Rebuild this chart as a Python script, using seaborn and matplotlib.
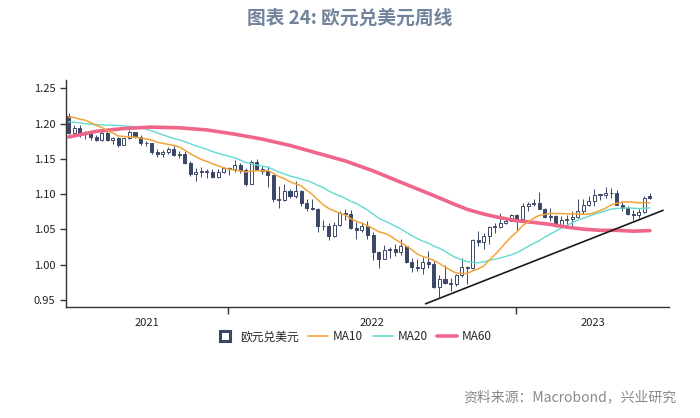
import numpy as np
import pandas as pd
import seaborn as sns
import matplotlib.pyplot as plt
from matplotlib.lines import Line2D

# weekly EUR/USD candles, first week starting 2021-06-14
week_start = '2021-06-14'

open_ = [1.2107, 1.1864, 1.1936, 1.1863, 1.1875, 1.1808, 1.1770, 1.1870, 1.1762, 1.1795,
         1.1700, 1.1795, 1.1880, 1.1813, 1.1725, 1.1720, 1.1595, 1.1575, 1.1600, 1.1645,
         1.1560, 1.1566, 1.1445, 1.1290, 1.1318, 1.1315, 1.1318, 1.1240, 1.1320, 1.1370,
         1.1360, 1.1410, 1.1345, 1.1145, 1.1450, 1.1350, 1.1322, 1.1270, 1.0930, 1.0910,
         1.1050, 1.0980, 1.1050, 1.0875, 1.0810, 1.0790, 1.0545, 1.0550, 1.0410, 1.0560,
         1.0730, 1.0720, 1.0520, 1.0495, 1.0555, 1.0425, 1.0185, 1.0080, 1.0210, 1.0220,
         1.0180, 1.0260, 1.0040, 0.9965, 0.9955, 1.0040, 1.0015, 0.9690, 0.9800, 0.9740,
         0.9720, 0.9860, 0.9965, 0.9960, 1.0350, 1.0325, 1.0400, 1.0535, 1.0535, 1.0585,
         1.0620, 1.0705, 1.0645, 1.0830, 1.0855, 1.0870, 1.0795, 1.0680, 1.0695, 1.0545,
         1.0635, 1.0645, 1.0670, 1.0760, 1.0840, 1.0905, 1.0990, 1.0990, 1.1015, 1.1020,
         1.0850, 1.0805, 1.0725, 1.0710, 1.0750, 1.0975]
high = [1.2146, 1.1975, 1.1975, 1.1895, 1.1880, 1.1835, 1.1909, 1.1900, 1.1806, 1.1805,
        1.1800, 1.1909, 1.1884, 1.1845, 1.1750, 1.1730, 1.1640, 1.1624, 1.1670, 1.1692,
        1.1616, 1.1610, 1.1464, 1.1375, 1.1382, 1.1355, 1.1360, 1.1360, 1.1386, 1.1385,
        1.1482, 1.1436, 1.1370, 1.1484, 1.1495, 1.1395, 1.1395, 1.1275, 1.1121, 1.1137,
        1.1070, 1.1185, 1.1055, 1.0925, 1.0936, 1.0800, 1.0640, 1.0590, 1.0600, 1.0760,
        1.0786, 1.0774, 1.0600, 1.0605, 1.0615, 1.0460, 1.0200, 1.0278, 1.0255, 1.0293,
        1.0368, 1.0270, 1.0090, 1.0080, 1.0112, 1.0198, 1.0050, 0.9855, 0.9999, 0.9809,
        0.9875, 1.0094, 0.9976, 1.0364, 1.0480, 1.0450, 1.0545, 1.0595, 1.0736, 1.0660,
        1.0715, 1.0715, 1.0870, 1.0887, 1.0929, 1.1033, 1.0800, 1.0805, 1.0705, 1.0692,
        1.0700, 1.0760, 1.0930, 1.0925, 1.0973, 1.1075, 1.1000, 1.1095, 1.1092, 1.1055,
        1.0905, 1.0830, 1.0780, 1.0790, 1.0970, 1.1012]
low = [1.1847, 1.1848, 1.1807, 1.1781, 1.1772, 1.1752, 1.1756, 1.1754, 1.1705, 1.1664,
       1.1692, 1.1780, 1.1800, 1.1700, 1.1680, 1.1563, 1.1530, 1.1524, 1.1570, 1.1535,
       1.1513, 1.1433, 1.1264, 1.1186, 1.1236, 1.1226, 1.1222, 1.1235, 1.1295, 1.1272,
       1.1315, 1.1300, 1.1121, 1.1140, 1.1340, 1.1280, 1.1106, 1.0885, 1.0806, 1.0900,
       1.0944, 1.0945, 1.0835, 1.0757, 1.0770, 1.0470, 1.0490, 1.0350, 1.0390, 1.0550,
       1.0627, 1.0510, 1.0360, 1.0470, 1.0365, 1.0070, 0.9952, 1.0075, 1.0100, 1.0123,
       1.0140, 1.0030, 0.9900, 0.9910, 0.9864, 0.9955, 0.9668, 0.9535, 0.9730, 0.9632,
       0.9705, 0.9820, 0.9730, 0.9935, 1.0270, 1.0223, 1.0290, 1.0445, 1.0525, 1.0575,
       1.0615, 1.0483, 1.0640, 1.0765, 1.0835, 1.0790, 1.0655, 1.0615, 1.0533, 1.0535,
       1.0525, 1.0515, 1.0655, 1.0713, 1.0830, 1.0830, 1.0910, 1.0940, 1.0940, 1.0845,
       1.0760, 1.0710, 1.0635, 1.0665, 1.0735, 1.0935]
close = [1.1864, 1.1936, 1.1863, 1.1875, 1.1808, 1.1770, 1.1870, 1.1762, 1.1795, 1.1700,
         1.1795, 1.1880, 1.1813, 1.1725, 1.1720, 1.1595, 1.1575, 1.1600, 1.1645, 1.1560,
         1.1566, 1.1445, 1.1290, 1.1318, 1.1315, 1.1318, 1.1240, 1.1320, 1.1370, 1.1360,
         1.1410, 1.1345, 1.1145, 1.1450, 1.1350, 1.1322, 1.1270, 1.0930, 1.0910, 1.1050,
         1.0980, 1.1050, 1.0875, 1.0810, 1.0790, 1.0545, 1.0550, 1.0410, 1.0560, 1.0730,
         1.0720, 1.0520, 1.0495, 1.0555, 1.0425, 1.0185, 1.0080, 1.0210, 1.0220, 1.0180,
         1.0260, 1.0040, 0.9965, 0.9955, 1.0040, 1.0015, 0.9690, 0.9800, 0.9740, 0.9720,
         0.9860, 0.9965, 0.9960, 1.0350, 1.0325, 1.0400, 1.0535, 1.0535, 1.0585, 1.0620,
         1.0705, 1.0645, 1.0830, 1.0855, 1.0870, 1.0795, 1.0680, 1.0695, 1.0545, 1.0635,
         1.0645, 1.0670, 1.0760, 1.0840, 1.0905, 1.0990, 1.0990, 1.1015, 1.1020, 1.0850,
         1.0805, 1.0725, 1.0710, 1.0750, 1.0940, 1.0945]

ma10 = [1.2091, 1.2086, 1.2063, 1.2048, 1.2013, 1.1976, 1.1945, 1.1902, 1.1865, 1.1824,
        1.1817, 1.1812, 1.1807, 1.1792, 1.1783, 1.1766, 1.1736, 1.1720, 1.1705, 1.1691,
        1.1668, 1.1624, 1.1572, 1.1531, 1.1491, 1.1463, 1.1430, 1.1402, 1.1374, 1.1354,
        1.1339, 1.1329, 1.1314, 1.1327, 1.1331, 1.1331, 1.1334, 1.1295, 1.1249, 1.1218,
        1.1175, 1.1146, 1.1119, 1.1055, 1.0999, 1.0921, 1.0849, 1.0797, 1.0762, 1.0730,
        1.0704, 1.0651, 1.0613, 1.0588, 1.0551, 1.0515, 1.0468, 1.0448, 1.0414, 1.0359,
        1.0313, 1.0265, 1.0212, 1.0152, 1.0114, 1.0097, 1.0058, 1.0017, 0.9968, 0.9922,
        0.9882, 0.9875, 0.9874, 0.9914, 0.9942, 0.9981, 1.0066, 1.0139, 1.0224, 1.0314,
        1.0398, 1.0466, 1.0553, 1.0604, 1.0658, 1.0698, 1.0712, 1.0728, 1.0724, 1.0726,
        1.0720, 1.0722, 1.0715, 1.0714, 1.0717, 1.0737, 1.0768, 1.0800, 1.0847, 1.0869,
        1.0885, 1.0890, 1.0885, 1.0876, 1.0880, 1.0875]
ma20 = [1.2025, 1.2020, 1.2010, 1.2000, 1.1990, 1.1985, 1.1982, 1.1978, 1.1976, 1.1973,
        1.1968, 1.1962, 1.1952, 1.1940, 1.1922, 1.1898, 1.1870, 1.1842, 1.1815, 1.1788,
        1.1770, 1.1744, 1.1714, 1.1686, 1.1660, 1.1636, 1.1603, 1.1579, 1.1556, 1.1537,
        1.1514, 1.1485, 1.1449, 1.1433, 1.1413, 1.1398, 1.1382, 1.1348, 1.1312, 1.1286,
        1.1257, 1.1237, 1.1216, 1.1191, 1.1165, 1.1126, 1.1092, 1.1046, 1.1006, 1.0974,
        1.0940, 1.0898, 1.0866, 1.0821, 1.0775, 1.0718, 1.0659, 1.0623, 1.0588, 1.0545,
        1.0509, 1.0458, 1.0413, 1.0370, 1.0332, 1.0306, 1.0263, 1.0232, 1.0191, 1.0141,
        1.0098, 1.0070, 1.0043, 1.0033, 1.0028, 1.0039, 1.0062, 1.0078, 1.0096, 1.0118,
        1.0140, 1.0171, 1.0214, 1.0259, 1.0300, 1.0339, 1.0389, 1.0434, 1.0474, 1.0520,
        1.0559, 1.0594, 1.0634, 1.0659, 1.0688, 1.0717, 1.0740, 1.0764, 1.0786, 1.0797,
        1.0802, 1.0806, 1.0800, 1.0795, 1.0798, 1.0806]
ma60_week = [0, 5, 10, 15, 20, 25, 30, 35, 40, 45, 50, 55, 60, 63, 66, 69, 72, 75,
             78, 81, 84, 87, 90, 93, 96, 99, 102, 105]
ma60 = [1.181, 1.189, 1.193, 1.195, 1.194, 1.191, 1.185, 1.178, 1.169, 1.158, 1.147,
        1.133, 1.1169, 1.1074, 1.0979, 1.0879, 1.0784, 1.0718, 1.0665, 1.0622, 1.0599,
        1.0571, 1.0532, 1.0504, 1.0487, 1.0487, 1.0475, 1.0483]

trend_week = [64.5, 107.4]
trend_price = [0.9446, 1.0771]

year_labels = ['2021', '2022', '2023']
year_starts = ['2022-01-01', '2023-01-01']
y_ticks = [0.95, 1.00, 1.05, 1.10, 1.15, 1.20, 1.25]

sns.set_style('ticks')
plt.rcParams['font.family'] = ['Noto Sans CJK SC', 'DejaVu Sans']

dark = '#3b4767'
c10, c20, c60 = '#f2a43a', '#62dbd2', '#f0668a'

fig = plt.figure(figsize=(7, 4.18), dpi=100)
ax = fig.add_axes([0.094, 0.266, 0.862, 0.543])

n = len(close)
x = np.arange(n)
o = np.array(open_)
c = np.array(close)
up = c >= o
bot = np.minimum(o, c)
h = np.maximum(np.abs(c - o), 0.0008)

ax.vlines(x, low, high, color=dark, lw=0.7, zorder=2)
ax.bar(x[up], h[up], bottom=bot[up], width=0.55, color='white',
       edgecolor=dark, linewidth=0.7, zorder=3)
ax.bar(x[~up], h[~up], bottom=bot[~up], width=0.55, color=dark,
       edgecolor=dark, linewidth=0.7, zorder=3)

sns.lineplot(x=x, y=ma20, ax=ax, color=c20, lw=1.0, zorder=4)
sns.lineplot(x=x, y=ma10, ax=ax, color=c10, lw=1.1, zorder=5)
sns.lineplot(x=ma60_week, y=ma60, ax=ax, color=c60, lw=2.6, zorder=4)
ax.plot(trend_week, trend_price, color='#1a1a1a', lw=1.2, zorder=6)

xl = (-0.5, 108.5)
ax.set_xlim(*xl)
ax.set_ylim(0.9403, 1.262)

dates = pd.date_range(week_start, periods=n, freq='7D')
bounds = [(pd.Timestamp(d) - dates[0]).days / 7 for d in year_starts]
edges = [xl[0]] + bounds + [xl[1]]
centers = [(edges[i] + edges[i + 1]) / 2 for i in range(len(year_labels))]
ax.set_xticks(bounds)
ax.set_xticklabels([])
ax.set_xticks(centers, minor=True)
ax.set_xticklabels(year_labels, minor=True)
ax.tick_params(axis='x', which='major', length=5, width=1, color='#333333')
ax.tick_params(axis='x', which='minor', length=0, pad=8, labelsize=8,
               labelcolor='#222222')

ax.set_yticks(y_ticks)
ax.set_yticklabels([f'{v:.2f}' for v in y_ticks])
ax.tick_params(axis='y', length=4, width=1, labelsize=8, color='#333333',
               labelcolor='#222222')

sns.despine(ax=ax)
for s in ['left', 'bottom']:
    ax.spines[s].set_color('#333333')
    ax.spines[s].set_linewidth(1.0)
ax.set_xlabel('')
ax.set_ylabel('')

handles = [
    Line2D([], [], marker='s', ls='none', markersize=6.5, markerfacecolor='white',
           markeredgecolor=dark, markeredgewidth=2.2),
    Line2D([], [], color=c10, lw=1.2),
    Line2D([], [], color=c20, lw=1.2),
    Line2D([], [], color=c60, lw=2.6),
]
fig.legend(handles, ['欧元兑美元', 'MA10', 'MA20', 'MA60'], loc='center',
           bbox_to_anchor=(0.505, 0.194), ncol=4, frameon=False, fontsize=8.5,
           handlelength=1.7, handletextpad=0.4, columnspacing=0.8)

fig.text(0.5, 0.957, '图表 24: 欧元兑美元周线', ha='center', va='center',
         fontsize=13.5, fontweight='bold', color='#72839c')
fig.text(0.966, 0.05, '资料来源：Macrobond，兴业研究', ha='right', va='center',
         fontsize=10, color='#888888')

fig.savefig('out.png', dpi=100)
